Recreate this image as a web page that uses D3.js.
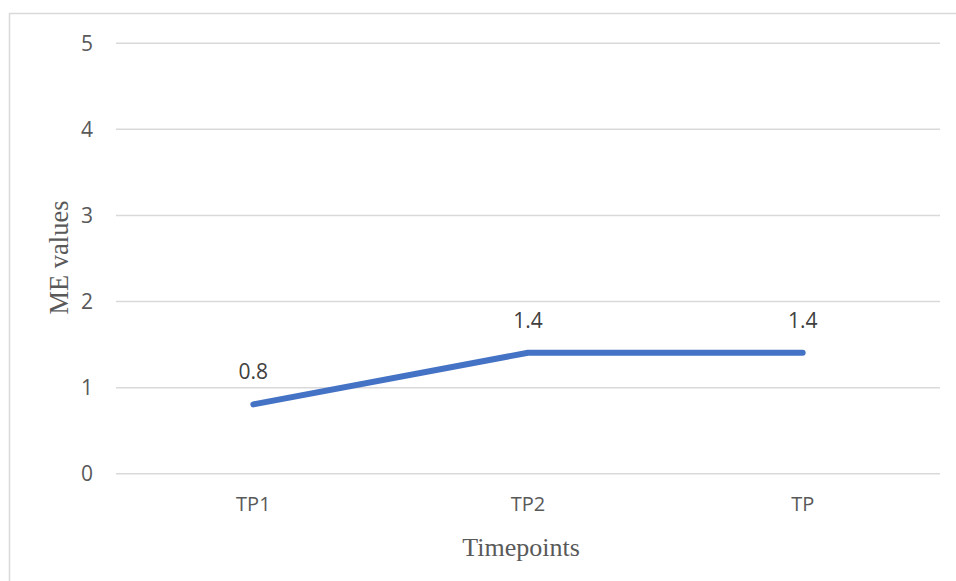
<!DOCTYPE html>
<html>
<head>
<meta charset="utf-8">
<script src="https://cdn.jsdelivr.net/npm/d3@7"></script>
<style>
  html, body { margin: 0; padding: 0; background: #fff; }
  svg { display: block; }
</style>
</head>
<body>
<svg id="chart" width="956" height="581"></svg>
<script>
const categories = ["TP1", "TP2", "TP"];
const meValues = [0.8, 1.4, 1.4];
const yTicks = [0, 1, 2, 3, 4, 5];
const yAxisTitle = "ME values";
const xAxisTitle = "Timepoints";

const svg = d3.select("#chart");
const W = 956, H = 581;
const plot = { left: 116, right: 940, top: 42.7, bottom: 473.3 };

// outer chart border
svg.append("rect")
  .attr("x", 9.5).attr("y", 13.5)
  .attr("width", 960).attr("height", 620)
  .attr("fill", "#fff")
  .attr("stroke", "#d9d9d9").attr("stroke-width", 1.5);

const x = d3.scaleBand().domain(categories).range([plot.left, plot.right]);
const y = d3.scaleLinear().domain([0, 5]).range([plot.bottom, plot.top]);

// gridlines + y tick labels via axis
const yAxis = d3.axisLeft(y).tickValues(yTicks).tickSize(-(plot.right - plot.left)).tickPadding(23).tickFormat(d3.format("d"));
const gy = svg.append("g").attr("transform", `translate(${plot.left},0)`).call(yAxis);
gy.select(".domain").remove();
gy.selectAll(".tick line").attr("stroke", "#d9d9d9").attr("stroke-width", 1.5);
gy.selectAll(".tick text")
  .attr("fill", "#595959")
  .style("font-family", "'Open Sans', sans-serif")
  .style("font-size", "21px")
  .attr("dy", "0.36em");

// x axis labels
const xAxis = d3.axisBottom(x).tickSize(0).tickPadding(24);
const gx = svg.append("g").attr("transform", `translate(0,${plot.bottom})`).call(xAxis);
gx.select(".domain").remove();
gx.selectAll(".tick text")
  .attr("fill", "#595959")
  .style("font-family", "'Open Sans', sans-serif")
  .style("font-size", "20px");

// line
const data = categories.map((c, i) => ({ c, v: meValues[i] }));
const line = d3.line().x(d => x(d.c) + x.bandwidth() / 2).y(d => y(d.v));
svg.append("path")
  .datum(data)
  .attr("d", line)
  .attr("fill", "none")
  .attr("stroke", "#4472c4")
  .attr("stroke-width", 6)
  .attr("stroke-linecap", "round")
  .attr("stroke-linejoin", "round");

// data labels
svg.append("g").selectAll("text")
  .data(data)
  .join("text")
  .attr("x", d => x(d.c) + x.bandwidth() / 2)
  .attr("y", d => y(d.v) - 25)
  .attr("text-anchor", "middle")
  .attr("fill", "#404040")
  .style("font-family", "'Open Sans', sans-serif")
  .style("font-size", "21px")
  .text(d => d.v);

// axis titles
svg.append("text")
  .attr("transform", `translate(68,257.5) rotate(-90)`)
  .attr("text-anchor", "middle")
  .attr("fill", "#595959")
  .style("font-family", "'Liberation Serif', 'Times New Roman', serif")
  .style("font-size", "26.5px")
  .text(yAxisTitle);

svg.append("text")
  .attr("x", 521).attr("y", 556)
  .attr("text-anchor", "middle")
  .attr("fill", "#595959")
  .style("font-family", "'Liberation Serif', 'Times New Roman', serif")
  .style("font-size", "26px")
  .text(xAxisTitle);
</script>
</body>
</html>
